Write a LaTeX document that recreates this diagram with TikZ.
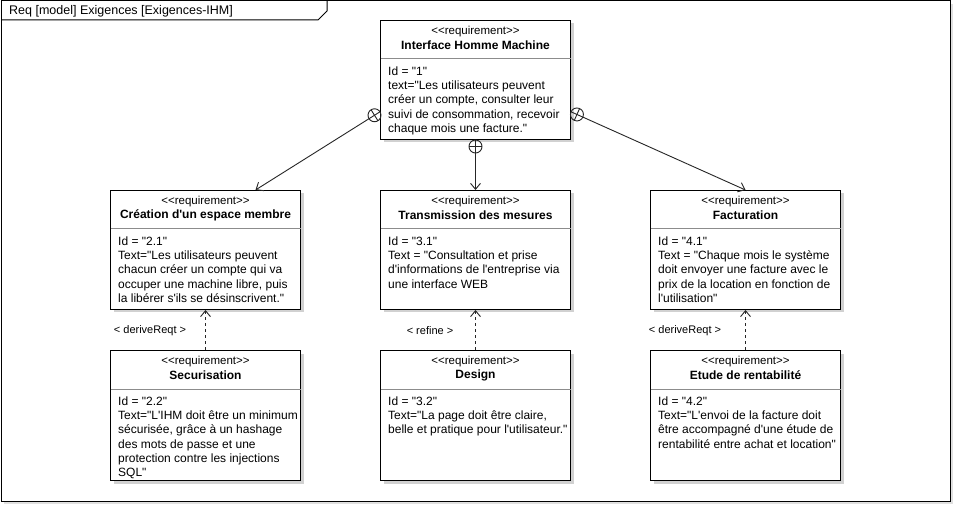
\documentclass[tikz,border=0pt]{standalone}
\usepackage{fontspec}
\newfontfamily\ui{Liberation Sans}
\usetikzlibrary{calc,arrows.meta,shadows}
\newcommand\contain[3]{% #1 start coord, #2 end coord, #3 name
  \coordinate (#3c) at ($(#1)!6.5pt!(#2)$);
  \draw[conn] (#3c) circle (6.5pt);
  \draw[conn] ($(#3c)!6.5pt!(#2)$) -- (#1);
  \draw[conn] ($(#3c)!6.5pt!90:(#2)$) -- ($(#3c)!6.5pt!-90:(#2)$);
  \draw[conn,-{Straight Barb[length=6pt,width=10pt]}] ($(#3c)!6.5pt!(#2)$) -- (#2);
}
\begin{document}
\begin{tikzpicture}[x=1pt,y=-1pt,
  reqbox/.style={draw=black, line width=1pt, fill=white, minimum width=190pt, inner sep=0pt, anchor=north west,
    drop shadow={shadow xshift=3pt, shadow yshift=-3pt, fill=black, opacity=0.18}},
  sepline/.style={draw=black!45, line width=0.8pt},
  ster/.style={font=\ui\fontsize{11.5}{13}\selectfont, inner sep=0pt},
  nm/.style={font=\ui\bfseries\fontsize{12}{14}\selectfont, inner sep=0pt},
  body/.style={font=\ui\fontsize{12}{14.2}\selectfont, inner sep=0pt, anchor=north west, align=left},
  lbl/.style={font=\ui\fontsize{11}{13}\selectfont, inner sep=0pt},
  conn/.style={draw=black!85, line width=0.9pt},
  dep/.style={draw=black!85, line width=0.9pt, dash pattern=on 3pt off 3pt, -{Straight Barb[length=6pt,width=10pt]}}
]
\useasboundingbox (0,0) rectangle (962,513);
% frame
\fill[black, opacity=0.12] (4,4) rectangle (953,504);
\draw[fill=white, line width=1pt] (1,1) rectangle (950,501);
\draw[line width=1pt] (1,20) -- (318,20) -- (327,11) -- (327,1);
\node[font=\ui\fontsize{12.5}{14}\selectfont, inner sep=0pt, anchor=west] (title) at (9,11) {Req [model] Exigences [Exigences-IHM]};

% boxes
\node[reqbox, minimum height=119pt] (ihm) at (380,20) {};
\node[reqbox, minimum height=119pt] (cre) at (110,190) {};
\node[reqbox, minimum height=119pt] (tra) at (380,190) {};
\node[reqbox, minimum height=119pt] (fac) at (650,190) {};
\node[reqbox, minimum height=130pt] (sec) at (110,350) {};
\node[reqbox, minimum height=130pt] (des) at (380,350) {};
\node[reqbox, minimum height=130pt] (etu) at (650,350) {};

\foreach \b in {ihm,cre,tra,fac}{
  \draw[sepline] ($(\b.north west)+(0.5,38.5)$) -- ($(\b.north east)+(-0.5,38.5)$);
  \node[ster] at ($(\b.north)+(0,11.7)$) {<<requirement>>};
}
\foreach \b in {sec,des,etu}{
  \draw[sepline] ($(\b.north west)+(0.5,39)$) -- ($(\b.north east)+(-0.5,39)$);
  \node[ster] at ($(\b.north)+(0,11.7)$) {<<requirement>>};
}

\node[nm] (ihmn) at ($(ihm.north)+(0,25)$) {Interface Homme Machine};
\node[nm] (cren) at ($(cre.north)+(0,25)$) {Création d'un espace membre};
\node[nm] (tran) at ($(tra.north)+(0,25)$) {Transmission des mesures};
\node[nm] (facn) at ($(fac.north)+(0,25)$) {Facturation};
\node[nm] (secn) at ($(sec.north)+(0,25)$) {Securisation};
\node[nm] (desn) at ($(des.north)+(0,25)$) {Design};
\node[nm] (etun) at ($(etu.north)+(0,25)$) {Etude de rentabilité};

\node[body] (ihmb) at ($(ihm.north west)+(8,46.7)$) {Id = "1"\\text="Les utilisateurs peuvent\\créer un compte, consulter leur\\suivi de consommation, recevoir\\chaque mois une facture."};
\node[body] (creb) at ($(cre.north west)+(8,46.7)$) {Id = "2.1"\\Text="Les utilisateurs peuvent\\chacun créer un compte qui va\\occuper une machine libre, puis\\la libérer s'ils se désinscrivent."};
\node[body] (trab) at ($(tra.north west)+(8,46.7)$) {Id = "3.1"\\Text = "Consultation et prise\\d'informations de l'entreprise via\\une interface WEB};
\node[body] (facb) at ($(fac.north west)+(8,46.7)$) {Id = "4.1"\\Text = "Chaque mois le système\\doit envoyer une facture avec le\\prix de la location en fonction de\\l'utilisation"};
\node[body] (secb) at ($(sec.north west)+(8,46.7)$) {Id = "2.2"\\Text="L'IHM doit être un minimum\\sécurisée, grâce à un hashage\\des mots de passe et une\\protection contre les injections\\SQL"};
\node[body] (desb) at ($(des.north west)+(8,46.7)$) {Id = "3.2"\\Text="La page doit être claire,\\belle et pratique pour l'utilisateur."};
\node[body] (etub) at ($(etu.north west)+(8,46.7)$) {Id = "4.2"\\Text="L'envoi de la facture doit\\être accompagné d'une étude de\\rentabilité entre achat et location"};

% containment connectors
\coordinate (s1) at ($(ihm.north west)!0.765!(ihm.south west)$);
\coordinate (e1) at ($(cre.north)+(50,0)$);
\coordinate (s2) at (ihm.south);
\coordinate (e2) at (tra.north);
\coordinate (s3) at ($(ihm.north east)!0.765!(ihm.south east)$);
\coordinate (e3) at (fac.north);
\contain{s1}{e1}{k1}
\contain{s2}{e2}{k2}
\contain{s3}{e3}{k3}

% dependencies
\draw[dep] (sec.north) -- (cre.south);
\draw[dep] (des.north) -- (tra.south);
\draw[dep] (etu.north) -- (fac.south);
\node[lbl] (l1) at (150,331) {< deriveReqt >};
\node[lbl] (l2) at (430,330.5) {< refine >};
\node[lbl] (l3) at (685,331) {< deriveReqt >};
\end{tikzpicture}
\end{document}
